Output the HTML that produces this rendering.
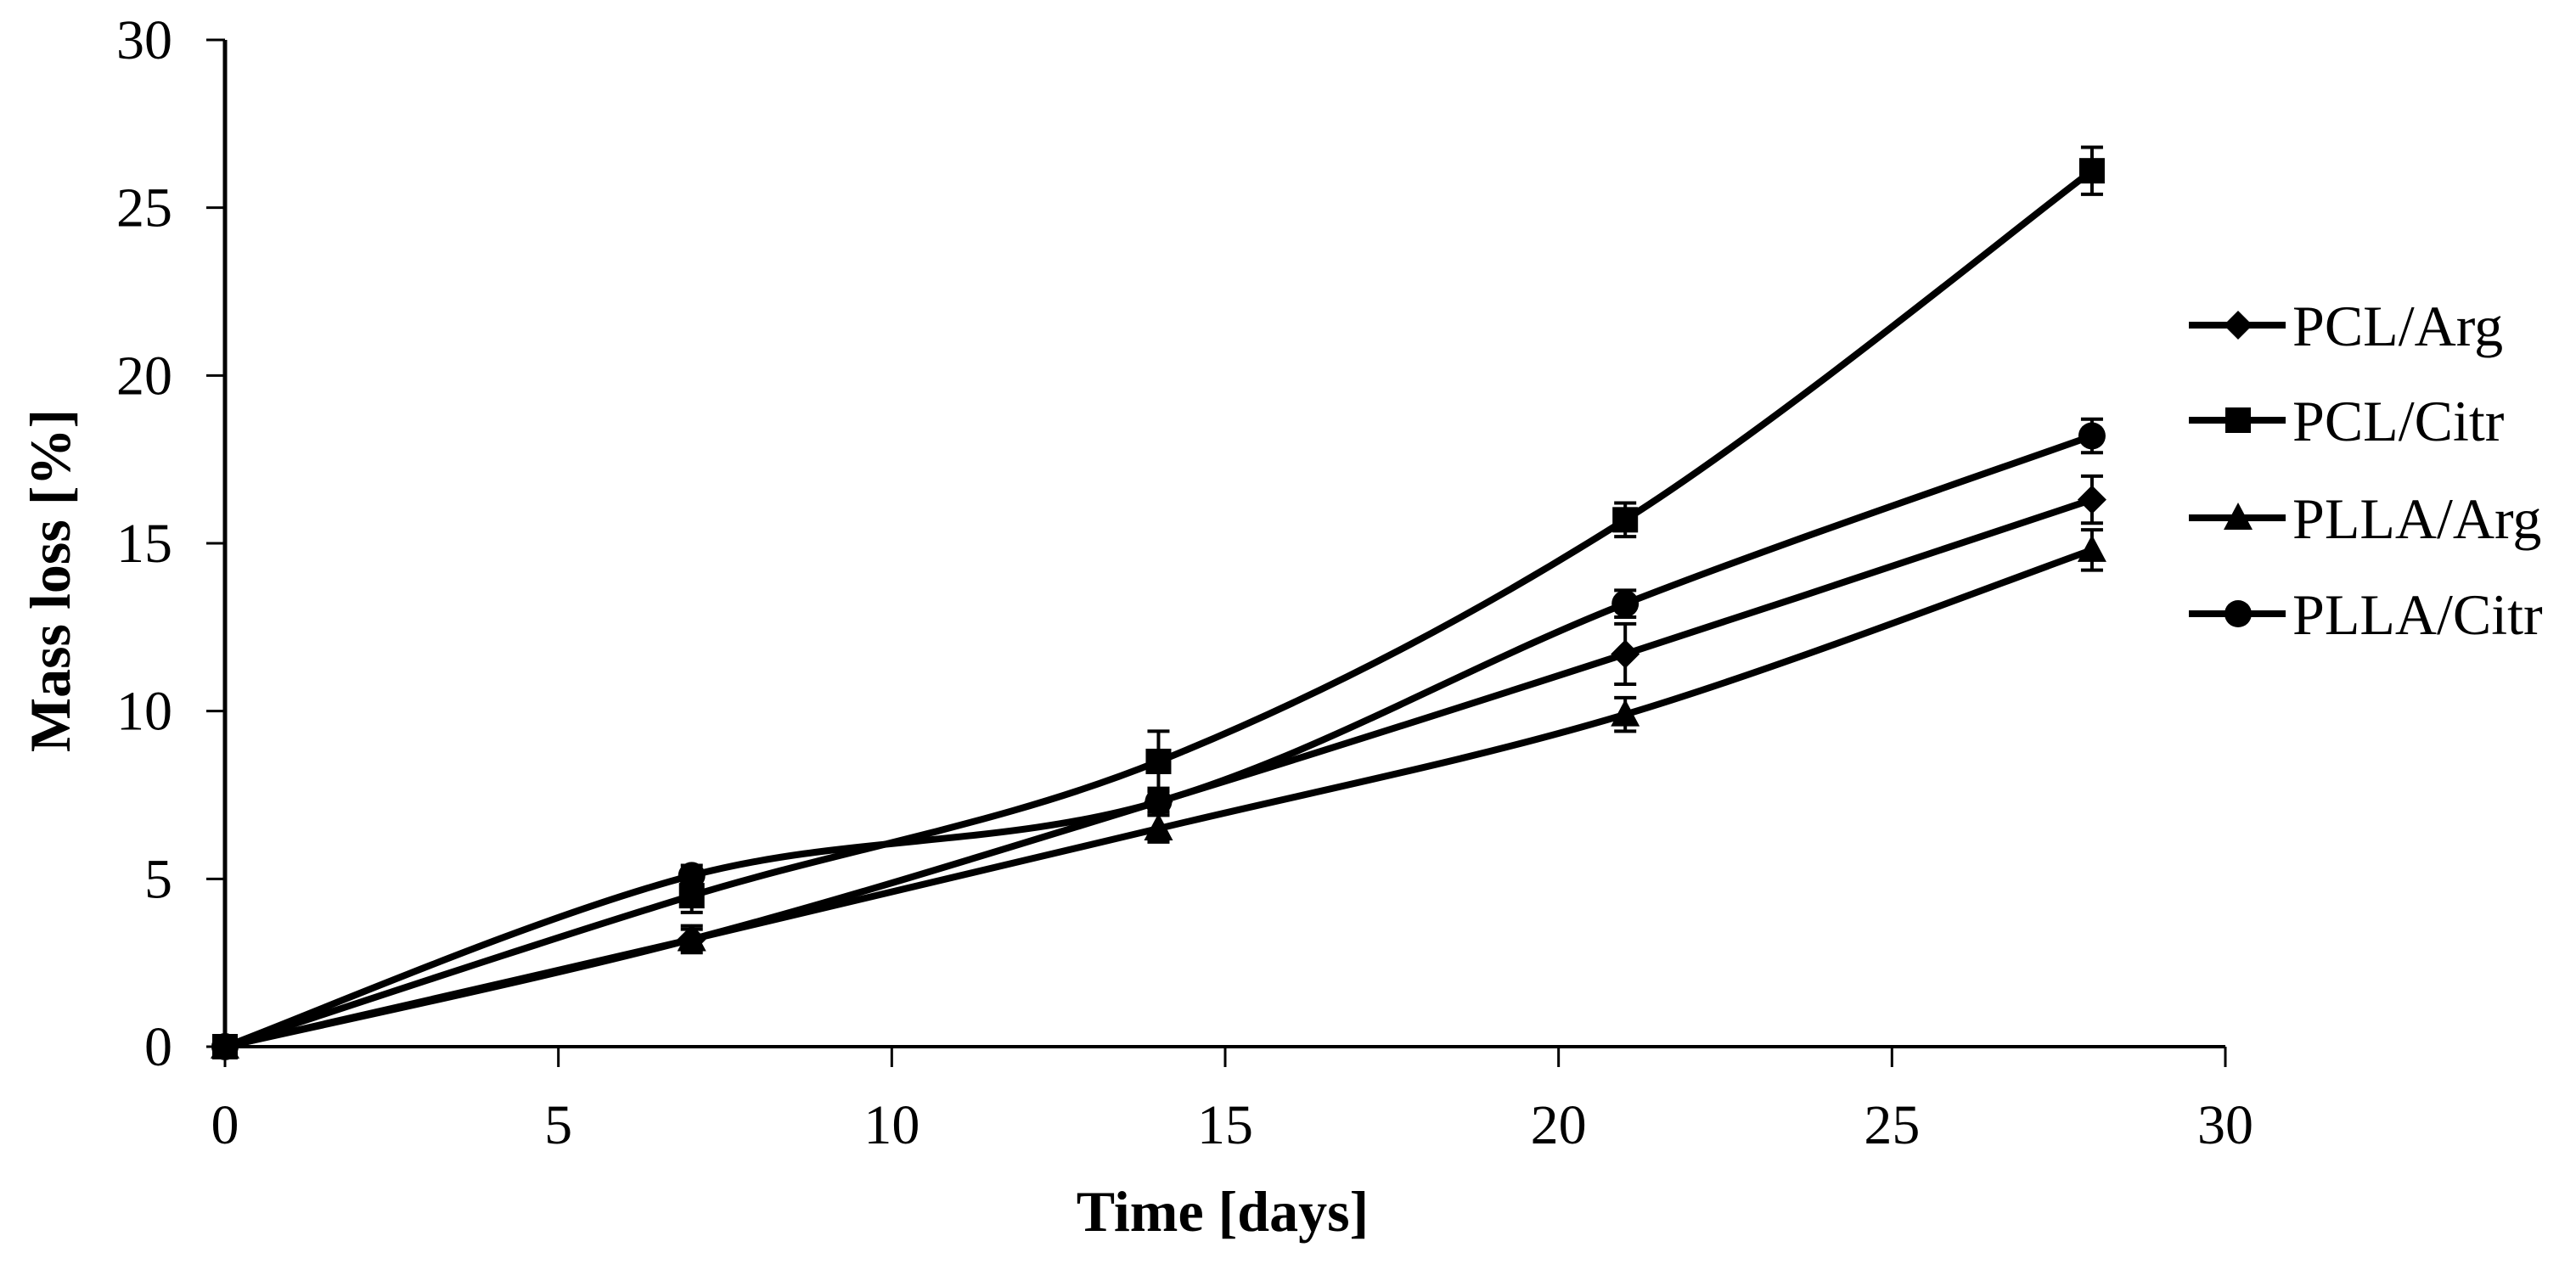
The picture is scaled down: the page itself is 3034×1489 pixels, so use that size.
<!DOCTYPE html>
<html><head><meta charset="utf-8"><style>
html,body{margin:0;padding:0;background:#fff;}
svg{display:block;font-family:"Liberation Serif",serif;}
</style></head><body>
<svg id="chart" width="3034" height="1489" viewBox="0 0 3034 1489" xmlns="http://www.w3.org/2000/svg">
<g id="axes"></g>
<g id="series"></g>
<g id="legend"></g>
<text x="1440" y="1450" text-anchor="middle" font-weight="bold" font-size="68">Time [days]</text>
<text transform="translate(82,684) rotate(-90)" text-anchor="middle" font-weight="bold" font-size="68">Mass loss [%]</text>
</svg>
<script>
const days = [0, 7, 14, 21, 28];
const seriesNames = ["PCL/Arg", "PCL/Citr", "PLLA/Arg", "PLLA/Citr"];
const pclArg = [0, 3.2, 7.3, 11.7, 16.3];
const pclArgErr = [0, 0.3, 0.4, 0.9, 0.7];
const pclCitr = [0, 4.5, 8.5, 15.7, 26.1];
const pclCitrErr = [0, 0.5, 0.9, 0.5, 0.7];
const pllaArg = [0, 3.2, 6.5, 9.9, 14.8];
const pllaArgErr = [0, 0.4, 0.4, 0.5, 0.6];
const pllaCitr = [0, 5.1, 7.3, 13.2, 18.2];
const pllaCitrErr = [0, 0.3, 0.3, 0.4, 0.5];
const xTicks = [0, 5, 10, 15, 20, 25, 30];
const yTicks = [0, 5, 10, 15, 20, 25, 30];

const NS = "http://www.w3.org/2000/svg";
const X0 = 265, X1 = 2621, Y0 = 1233, Y1 = 47;
const sx = v => X0 + (v - 0) / 30 * (X1 - X0);
const sy = v => Y0 - (v - 0) / 30 * (Y0 - Y1);
function mk(tag, attrs, parent) {
  const e = document.createElementNS(NS, tag);
  for (const k in attrs) e.setAttribute(k, attrs[k]);
  parent.appendChild(e);
  return e;
}
const axes = document.getElementById("axes");
let e;
e = mk("line", {x1: X0, y1: Y1, x2: X0, y2: Y0, stroke: "#000", "stroke-width": 5}, axes);


e = mk("line", {x1: X0, y1: Y0, x2: X1, y2: Y0, stroke: "#000", "stroke-width": 4}, axes);


yTicks.forEach(t => {
  const y = sy(t);
  let l = mk("line", {x1: 243, y1: y, x2: X0, y2: y, stroke: "#000", "stroke-width": 3}, axes);
  
  
  let tx = mk("text", {x: 203, y: y + 22, "text-anchor": "end", "font-size": 66}, axes);
  tx.textContent = t;
  
  
});
xTicks.forEach(t => {
  const x = sx(t);
  let l = mk("line", {x1: x, y1: Y0, x2: x, y2: 1257, stroke: "#000", "stroke-width": 3}, axes);
  
  
  let tx = mk("text", {x: x, y: 1347, "text-anchor": "middle", "font-size": 66}, axes);
  tx.textContent = t;
  
  
});

function smoothPath(pts) {
  let d = "M" + pts[0][0] + "," + pts[0][1];
  const s = 1/6;
  for (let i = 0; i < pts.length - 1; i++) {
    const p0 = pts[Math.max(0, i - 1)], p1 = pts[i], p2 = pts[i + 1], p3 = pts[Math.min(pts.length - 1, i + 2)];
    const c1 = [p1[0] + (p2[0] - p0[0]) * s, p1[1] + (p2[1] - p0[1]) * s];
    const c2 = [p2[0] - (p3[0] - p1[0]) * s, p2[1] - (p3[1] - p1[1]) * s];
    d += " C" + c1 + " " + c2 + " " + p2;
  }
  return d;
}
function marker(type, x, y, parent) {
  let m;
  if (type === "diamond") m = mk("polygon", {points: `${x},${y-17} ${x+17},${y} ${x},${y+17} ${x-17},${y}`, fill: "#000"}, parent);
  else if (type === "square") m = mk("rect", {x: x-15, y: y-15, width: 30, height: 30, fill: "#000"}, parent);
  else if (type === "triangle") m = mk("polygon", {points: `${x},${y-18} ${x+17},${y+14} ${x-17},${y+14}`, fill: "#000"}, parent);
  else m = mk("circle", {cx: x, cy: y, r: 16, fill: "#000"}, parent);
  return m;
}
const allVals = [pclArg, pclCitr, pllaArg, pllaCitr];
const allErr = [pclArgErr, pclCitrErr, pllaArgErr, pllaCitrErr];
const markers = ["diamond", "square", "triangle", "circle"];
const sg = document.getElementById("series");
allVals.forEach((vals, si) => {
  const g = mk("g", {}, sg);
  
  
  const pts = days.map((d, i) => [sx(d), sy(vals[i])]);
  const p = mk("path", {d: smoothPath(pts), fill: "none", stroke: "#000", "stroke-width": 8, "stroke-linejoin": "round"}, g);
  
  
  days.forEach((d, i) => {
    const x = sx(d), err = allErr[si][i];
    if (err > 0) {
      const yt = sy(vals[i] + err), yb = sy(vals[i] - err);
      const eb = mk("path", {d: `M${x},${yt} V${yb} M${x-13},${yt} H${x+13} M${x-13},${yb} H${x+13}`, stroke: "#000", "stroke-width": 4, fill: "none"}, g);
      
      
    }
    const m = marker(markers[si], x, sy(vals[i]), g);
    
    
  });
});
const lg = document.getElementById("legend");
const legendY = [383, 495, 610, 723];
seriesNames.forEach((n, i) => {
  const g = mk("g", {}, lg);
  
  
  const y = legendY[i];
  mk("line", {x1: 2578, y1: y, x2: 2692, y2: y, stroke: "#000", "stroke-width": 8}, g);
  marker(markers[i], 2636, y, g);
  const t = mk("text", {x: 2700, y: y + 24, "font-size": 68}, g);
  t.textContent = n;
});
</script>
</body></html>
